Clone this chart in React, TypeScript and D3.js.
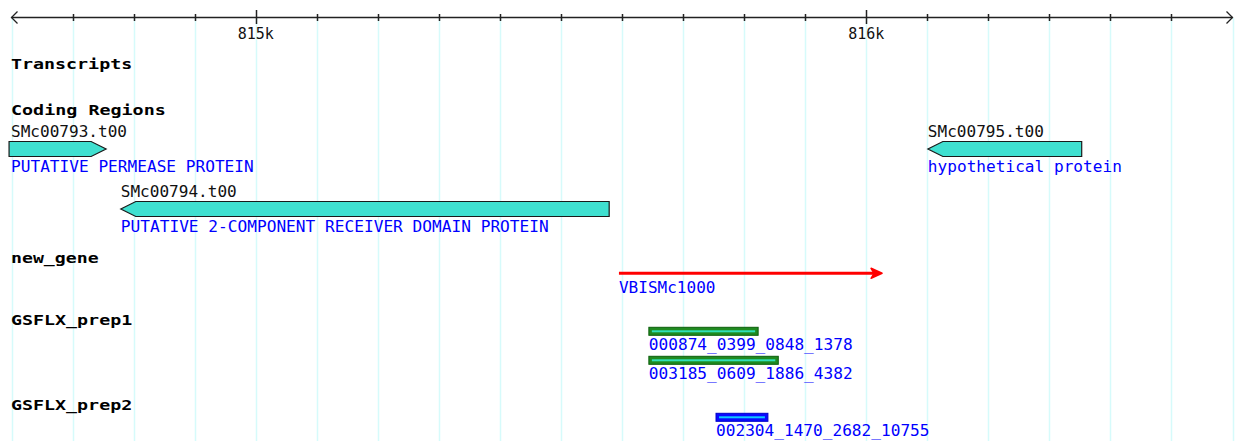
import React, { useEffect, useRef } from 'react';
import * as d3 from 'd3';

// ruler
const rulerDomain = [814600, 816600];
const majorTicks = [815000, 816000];
const majorLabels = ['815k', '816k'];

// track labels
const trackNames = ['Transcripts', 'Coding Regions', 'new_gene', 'GSFLX_prep1', 'GSFLX_prep2'];

// Coding Regions
const cdsNames = ['SMc00793.t00', 'SMc00794.t00', 'SMc00795.t00'];
const cdsStart = [814596, 814779, 816101];
const cdsEnd = [814755, 815579, 816353];
const cdsStrand = [1, -1, -1];
const cdsDesc = ['PUTATIVE PERMEASE PROTEIN', 'PUTATIVE 2-COMPONENT RECEIVER DOMAIN PROTEIN', 'hypothetical protein'];
const cdsRow = [0, 1, 0];

// new_gene
const geneNames = ['VBISMc1000'];
const geneStart = [815595];
const geneEnd = [816026];

// GSFLX reads
const prep1Names = ['000874_0399_0848_1378', '003185_0609_1886_4382'];
const prep1Start = [815644, 815644];
const prep1End = [815823, 815856];
const prep2Names = ['002304_1470_2682_10755'];
const prep2Start = [815754];
const prep2End = [815839];

const W = 1238;
const H = 441;
const MONO = '"DejaVu Sans Mono", "Liberation Mono", monospace';

const App = () => {
  const svgRef = useRef(null);

  useEffect(() => {
    document.body.style.margin = '0';
    const svg = d3.select(svgRef.current);
    svg.selectAll('*').remove();

    const x = d3.scaleLinear().domain(rulerDomain).range([11.5, 1232.5]);
    const ticks = x.ticks(20);

    // grid lines
    svg.append('g')
      .selectAll('line')
      .data(ticks)
      .join('line')
      .attr('x1', d => Math.round(x(d)) + 0.5)
      .attr('x2', d => Math.round(x(d)) + 0.5)
      .attr('y1', 18)
      .attr('y2', H)
      .attr('stroke', '#d6fbfb')
      .attr('stroke-width', 1.5);

    // ruler
    const rulerY = 17.5;
    const ruler = svg.append('g').attr('stroke', '#222').attr('fill', 'none');
    ruler.append('line')
      .attr('x1', x.range()[0]).attr('x2', x.range()[1])
      .attr('y1', rulerY).attr('y2', rulerY)
      .attr('stroke-width', 1.6);
    ruler.append('path')
      .attr('d', `M${x.range()[0] + 6},${rulerY - 6}L${x.range()[0]},${rulerY}L${x.range()[0] + 6},${rulerY + 6}`)
      .attr('stroke-width', 1.3);
    ruler.append('path')
      .attr('d', `M${x.range()[1] - 6},${rulerY - 6}L${x.range()[1]},${rulerY}L${x.range()[1] - 6},${rulerY + 6}`)
      .attr('stroke-width', 1.3);
    ruler.selectAll('.minor')
      .data(ticks.filter(d => !majorTicks.includes(d) && d > rulerDomain[0] && d < rulerDomain[1]))
      .join('line')
      .attr('x1', d => Math.round(x(d)) + 0.5)
      .attr('x2', d => Math.round(x(d)) + 0.5)
      .attr('y1', 14).attr('y2', 21)
      .attr('stroke-width', 1.5);
    ruler.selectAll('.major')
      .data(majorTicks)
      .join('line')
      .attr('x1', d => Math.round(x(d)) + 0.5)
      .attr('x2', d => Math.round(x(d)) + 0.5)
      .attr('y1', 10).attr('y2', 24)
      .attr('stroke-width', 1.5);
    svg.append('g')
      .selectAll('text')
      .data(majorTicks)
      .join('text')
      .attr('x', d => x(d))
      .attr('y', 39)
      .attr('text-anchor', 'middle')
      .style('font-family', MONO)
      .style('font-size', '15px')
      .attr('fill', '#111')
      .text((d, i) => majorLabels[i]);

    // track labels
    const trackY = [68.5, 114.5, 263, 325, 410];
    svg.append('g')
      .selectAll('text')
      .data(trackNames)
      .join('text')
      .attr('x', 11)
      .attr('y', (d, i) => trackY[i])
      .attr('textLength', d => d.length * 11.2 - 2)
      .attr('lengthAdjust', 'spacingAndGlyphs')
      .style('font-family', MONO)
      .style('font-size', '14px')
      .style('font-weight', 'bold')
      .attr('fill', '#000')
      .text(d => d);

    const label = (g, tx, ty, txt, color) => {
      g.append('text')
        .attr('x', tx)
        .attr('y', ty)
        .attr('textLength', txt.length * 9.75 - 1)
        .attr('lengthAdjust', 'spacingAndGlyphs')
        .style('font-family', MONO)
        .style('font-size', '15.5px')
        .attr('fill', color)
        .text(txt);
    };

    // coding regions
    const rowTop = [141.5, 201.5];
    const boxH = 15;
    const cds = svg.append('g');
    cdsNames.forEach((name, i) => {
      const x0 = x(cdsStart[i]);
      const x1 = x(cdsEnd[i]);
      const y0 = rowTop[cdsRow[i]];
      const y1 = y0 + boxH;
      const ym = y0 + boxH / 2;
      const tip = 15;
      const d = cdsStrand[i] > 0
        ? `M${x0},${y0}L${x1 - tip},${y0}L${x1},${ym}L${x1 - tip},${y1}L${x0},${y1}Z`
        : `M${x0},${ym}L${x0 + tip},${y0}L${x1},${y0}L${x1},${y1}L${x0 + tip},${y1}Z`;
      cds.append('path')
        .attr('d', d)
        .attr('fill', '#40e0d0')
        .attr('stroke', '#1a1a1a')
        .attr('stroke-width', 1.2);
      label(cds, Math.max(x0, 11), y0 - 4.5, name, '#111');
      label(cds, Math.max(x0, 11), y1 + 15.5, cdsDesc[i], '#0000ff');
    });

    // new_gene
    const gene = svg.append('g');
    geneNames.forEach((name, i) => {
      const x0 = x(geneStart[i]);
      const x1 = x(geneEnd[i]);
      const ym = 273.3;
      gene.append('line')
        .attr('x1', x0).attr('x2', x1 - 6)
        .attr('y1', ym).attr('y2', ym)
        .attr('stroke', '#ff0000')
        .attr('stroke-width', 3);
      gene.append('path')
        .attr('d', `M${x1 - 11},${ym - 5}L${x1},${ym}L${x1 - 11},${ym + 5}L${x1 - 8},${ym}Z`)
        .attr('fill', '#ff0000')
        .attr('stroke', '#ff0000')
        .attr('stroke-width', 1.5)
        .attr('stroke-linejoin', 'round');
      label(gene, x0, 293, name, '#0000ff');
    });

    // reads
    const reads = (names, starts, ends, tops, outer, edge, inner) => {
      const g = svg.append('g');
      names.forEach((name, i) => {
        const x0 = x(starts[i]);
        const x1 = x(ends[i]);
        const y0 = tops[i];
        g.append('rect')
          .attr('x', x0).attr('y', y0)
          .attr('width', x1 - x0).attr('height', 8)
          .attr('fill', outer)
          .attr('stroke', edge)
          .attr('stroke-width', 1);
        g.append('rect')
          .attr('x', x0 + 3).attr('y', y0 + 3)
          .attr('width', x1 - x0 - 6).attr('height', 2)
          .attr('fill', inner);
        label(g, x0, y0 + 23, name, '#0000ff');
      });
    };
    reads(prep1Names, prep1Start, prep1End, [327.3, 356.3], '#1f8a1f', '#0c5e0c', '#2fe0b8');
    reads(prep2Names, prep2Start, prep2End, [413.3], '#0a0aff', '#0000c8', '#10c8ff');
  }, []);

  return (
    <div style={{ position: 'absolute', left: 0, top: 0, background: '#fff' }}>
      <svg ref={svgRef} width={W} height={H} style={{ display: 'block' }}></svg>
    </div>
  );
};

export default App;
